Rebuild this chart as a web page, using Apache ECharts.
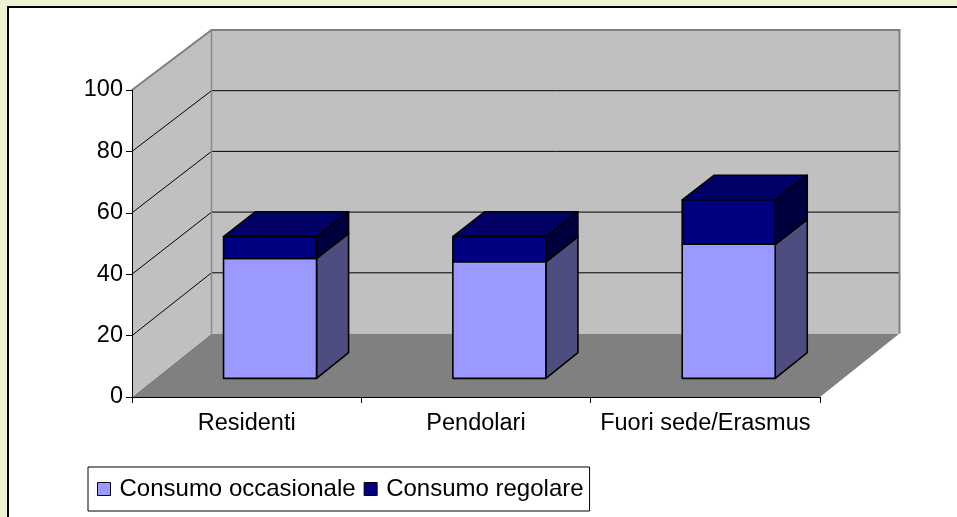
<!DOCTYPE html>
<html><head><meta charset="utf-8">
<script src="https://cdn.jsdelivr.net/npm/echarts@6/dist/echarts.min.js"></script>
<style>html,body{margin:0;padding:0;background:#EDF4D2;} #c{width:957px;height:517px;}</style>
</head><body><div id="c"></div>
<script>
// ---- data ----
const categories = ['Residenti', 'Pendolari', 'Fuori sede/Erasmus'];
const seriesNames = ['Consumo occasionale', 'Consumo regolare'];
const occasionale = [39.2, 38.1, 43.8];
const regolare = [7.1, 8.2, 14.5];
const yMin = 0, yMax = 100, yInterval = 20;
const yTicks = [0, 20, 40, 60, 80, 100];

// ---- 3D look (style constants) ----
const FONT = "'Liberation Sans', Arial, sans-serif";
const FS = 23.5;
const DX = 79.5, DY0 = -63.5, DY100 = -60;
const F1 = 0.294, F2 = 0.697, BAR_RATIO = 0.4055;

function proj(api, x, y, f) {
  const y0 = api.coord([0, yMin])[1];
  const y1 = api.coord([0, yMax])[1];
  const t = (y0 - y) / (y0 - y1);
  const dy = DY0 + (DY100 - DY0) * t;
  return [x + f * DX, y + f * dy];
}

function renderWalls(params, api) {
  const bw = api.size([1, 0])[0];
  const c = api.coord([0, yMin]);
  const xl = c[0] - bw / 2, xr = xl + bw * categories.length;
  const yb = c[1], yt = api.coord([0, yMax])[1];
  const P = (x, y, f) => proj(api, x, y, f);
  const ch = [];
  ch.push({type: 'polygon', shape: {points: [P(xl, yb, 0), P(xl, yb, 1), P(xr, yb, 1), P(xr, yb, 0)]}, style: {fill: '#808080'}});
  ch.push({type: 'polygon', shape: {points: [P(xl, yb, 0), P(xl, yt, 0), P(xl, yt, 1), P(xl, yb, 1)]}, style: {fill: '#C0C0C0'}});
  ch.push({type: 'polygon', shape: {points: [P(xl, yb, 1), P(xl, yt, 1), P(xr, yt, 1), P(xr, yb, 1)]}, style: {fill: '#C0C0C0'}});
  yTicks.forEach(v => {
    if (v === yMin || v === yMax) return;
    const y = api.coord([0, v])[1];
    ch.push({type: 'polyline', shape: {points: [P(xl, y, 0), P(xl, y, 1), P(xr, y, 1)]}, style: {stroke: '#000', lineWidth: 1, fill: null}});
  });
  ch.push({type: 'polyline', shape: {points: [P(xl, yb, 1), P(xl, yt, 1)]}, style: {stroke: '#888', lineWidth: 1.5, fill: null}});
  ch.push({type: 'polyline', shape: {points: [P(xl, yt, 0), P(xl, yt, 1), P(xr, yt, 1), P(xr, yb, 1)]}, style: {stroke: '#808080', lineWidth: 2, fill: null}});
  return {type: 'group', children: ch};
}

function makeBar(frontColor, sideColor, topColor) {
  return function (params, api) {
    const i = api.value(0), lo = api.value(1), hi = api.value(2);
    const bw = api.size([1, 0])[0];
    const cx = api.coord([i, lo])[0];
    const hw = bw * BAR_RATIO / 2;
    const yl = api.coord([i, lo])[1], yh = api.coord([i, hi])[1];
    const P = (x, y, f) => proj(api, x, y, f);
    const xL = cx - hw, xR = cx + hw;
    const front = [P(xL, yl, F1), P(xL, yh, F1), P(xR, yh, F1), P(xR, yl, F1)];
    const side = [P(xR, yl, F1), P(xR, yh, F1), P(xR, yh, F2), P(xR, yl, F2)];
    const top = [P(xL, yh, F1), P(xL, yh, F2), P(xR, yh, F2), P(xR, yh, F1)];
    const st = (fill) => ({fill: fill, stroke: '#000', lineWidth: 1.6, lineJoin: 'round'});
    return {type: 'group', children: [
      {type: 'polygon', shape: {points: side}, style: st(sideColor)},
      {type: 'polygon', shape: {points: top}, style: st(topColor)},
      {type: 'polygon', shape: {points: front}, style: st(frontColor)}
    ]};
  };
}

const occData = categories.map((c, i) => [i, 0, occasionale[i]]);
const regData = categories.map((c, i) => [i, occasionale[i], occasionale[i] + regolare[i]]);

const chart = echarts.init(document.getElementById('c'), null, {renderer: 'canvas'});
chart.setOption({
  backgroundColor: '#EDF4D2',
  animation: false,
  graphic: [{type: 'rect', shape: {x: 8, y: 7, width: 960, height: 520}, style: {fill: '#fff', stroke: '#000', lineWidth: 2}}],
  grid: {left: 132, top: 90, width: 688, height: 307, containLabel: false},
  legend: {
    data: seriesNames, left: 88, top: 467, orient: 'horizontal', icon: 'rect',
    itemWidth: 13, itemHeight: 13, itemGap: 8, padding: [10, 6, 10, 9],
    borderColor: '#000', borderWidth: 1, borderRadius: 0, backgroundColor: '#fff',
    textStyle: {fontFamily: FONT, fontSize: 24, color: '#000', padding: [0, 0, 0, 4]},
    itemStyle: {borderColor: '#000', borderWidth: 1}
  },
  xAxis: {
    type: 'category', data: categories, z: 5,
    axisLine: {lineStyle: {color: '#000', width: 1}},
    axisTick: {show: true, length: 6, lineStyle: {color: '#000'}},
    axisLabel: {fontFamily: FONT, fontSize: FS, color: '#000', margin: 15, interval: 0},
    splitLine: {show: false}
  },
  yAxis: {
    type: 'value', min: yMin, max: yMax, interval: yInterval, z: 5,
    axisLine: {show: true, lineStyle: {color: '#000', width: 1}},
    axisTick: {show: true, length: 6, lineStyle: {color: '#000'}},
    axisLabel: {fontFamily: FONT, fontSize: FS, color: '#000', margin: 9},
    splitLine: {show: false}
  },
  series: [
    {type: 'custom', name: 'walls', z: 1, silent: true, coordinateSystem: 'cartesian2d', encode: {x: 0, y: 1}, data: [[0, 0]], renderItem: renderWalls},
    {type: 'custom', name: seriesNames[0], z: 2, coordinateSystem: 'cartesian2d', encode: {x: 0, y: [1, 2]}, itemStyle: {color: '#9999FF'}, data: occData, renderItem: makeBar('#9999FF', '#4D4D80', '#7A7ACC')},
    {type: 'custom', name: seriesNames[1], z: 2, coordinateSystem: 'cartesian2d', encode: {x: 0, y: [1, 2]}, itemStyle: {color: '#000080'}, data: regData, renderItem: makeBar('#000080', '#000040', '#000066')}
  ]
});
</script></body></html>
